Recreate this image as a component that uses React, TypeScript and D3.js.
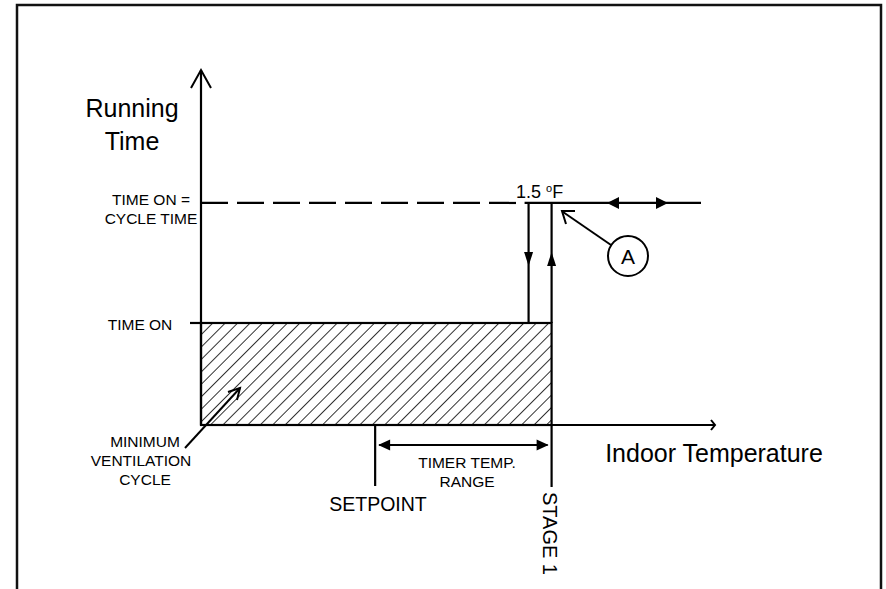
import React, { useEffect, useRef } from "react";
import * as d3 from "d3";

// temperature axis (°F above origin) and running-time axis (% of cycle)
const tempDomain = [0, 33.5];
const timeDomain = [0, 100];
const setpoint = 11.35;
const stage1 = 22.85;
const hysteresis = 1.5;
const timeOn = 28.9;
const cycleTime = 62.9;
const yLevelLabels = [
  { value: cycleTime, lines: ["TIME ON =", "CYCLE TIME"], cx: 151 },
  { value: timeOn, lines: ["TIME ON"], cx: 140 },
];
const minLabel = ["MINIMUM", "VENTILATION", "CYCLE"];
const rangeLabel = ["TIMER TEMP.", "RANGE"];

const W = 886;
const H = 589;
const FONT = "'Liberation Sans', Arial, sans-serif";

const App = () => {
  const svgRef = useRef<SVGSVGElement>(null);

  useEffect(() => {
    const svg = d3.select(svgRef.current);
    svg.selectAll("*").remove();

    const x = d3.scaleLinear().domain(tempDomain).range([201, 715]);
    const y = d3.scaleLinear().domain(timeDomain).range([425, 72]);
    const x0 = x(0);
    const y0 = y(0);

    // hatch pattern
    const defs = svg.append("defs");
    defs
      .append("pattern")
      .attr("id", "hatch")
      .attr("patternUnits", "userSpaceOnUse")
      .attr("width", 8.8)
      .attr("height", 8.8)
      .attr("patternTransform", "rotate(45)")
      .append("line")
      .attr("x1", 0)
      .attr("y1", 0)
      .attr("x2", 0)
      .attr("y2", 8.8)
      .attr("stroke", "#000")
      .attr("stroke-width", 1.6);

    // outer frame (open at the bottom)
    svg
      .append("path")
      .attr("d", `M17,${H} L17,5 L881,5 L881,${H}`)
      .attr("fill", "none")
      .attr("stroke", "#111")
      .attr("stroke-width", 2.5);

    const line = (x1: number, y1: number, x2: number, y2: number, w = 2) =>
      svg
        .append("line")
        .attr("x1", x1)
        .attr("y1", y1)
        .attr("x2", x2)
        .attr("y2", y2)
        .attr("stroke", "#000")
        .attr("stroke-width", w);

    const tri = (tx: number, ty: number, dir: "up" | "down" | "left" | "right", len = 12, half = 4.5) => {
      let d = "";
      if (dir === "up") d = `M${tx},${ty} L${tx - half},${ty + len} L${tx + half},${ty + len}Z`;
      if (dir === "down") d = `M${tx},${ty} L${tx - half},${ty - len} L${tx + half},${ty - len}Z`;
      if (dir === "left") d = `M${tx},${ty} L${tx + len},${ty - half} L${tx + len},${ty + half}Z`;
      if (dir === "right") d = `M${tx},${ty} L${tx - len},${ty - half} L${tx - len},${ty + half}Z`;
      svg.append("path").attr("d", d).attr("fill", "#000");
    };

    const text = (s: string, tx: number, ty: number, size: number, anchor = "middle") =>
      svg
        .append("text")
        .attr("x", tx)
        .attr("y", ty)
        .attr("font-family", FONT)
        .attr("font-size", size)
        .attr("text-anchor", anchor)
        .attr("fill", "#000")
        .text(s);

    // hatched minimum ventilation area
    svg
      .append("rect")
      .attr("x", x0)
      .attr("y", y(timeOn))
      .attr("width", x(stage1) - x0)
      .attr("height", y0 - y(timeOn))
      .attr("fill", "url(#hatch)")
      .attr("stroke", "#000")
      .attr("stroke-width", 2.2);

    // axes
    line(x0, y0, x0, y(100) - 2, 2.2);
    svg
      .append("path")
      .attr("d", `M${x0 - 10},${y(100) + 16} L${x0},${y(100) - 2} L${x0 + 10},${y(100) + 16}`)
      .attr("fill", "none")
      .attr("stroke", "#000")
      .attr("stroke-width", 2);
    line(x0, y0, x(tempDomain[1]), y0, 2.2);
    svg
      .append("path")
      .attr("d", `M${x(tempDomain[1]) - 4},${y0 - 5} L${x(tempDomain[1])},${y0} L${x(tempDomain[1]) - 4},${y0 + 5}`)
      .attr("fill", "none")
      .attr("stroke", "#000")
      .attr("stroke-width", 2);

    // time on tick
    line(x0 - 11, y(timeOn), x0, y(timeOn), 2.2);

    // cycle time dashed line
    const xd = x(stage1 - hysteresis);
    const xu = x(stage1);
    line(x0, y(cycleTime), 516, y(cycleTime), 2.2).attr("stroke-dasharray", "27 9");
    line(xd - 4, y(cycleTime), 701, y(cycleTime), 2.2);
    tri(607, y(cycleTime), "left", 12, 6);
    tri(668, y(cycleTime), "right", 12, 6);

    // hysteresis loop
    line(xd, y(cycleTime), xd, y(timeOn), 2.2);
    tri(xd, 266, "down", 14, 4.5);
    line(xu, y(timeOn), xu, y(cycleTime), 2.2);
    tri(xu, 252, "up", 14, 4.5);

    // 1.5 °F label
    const lbl = svg
      .append("text")
      .attr("x", 516)
      .attr("y", 198)
      .attr("font-family", FONT)
      .attr("font-size", 18)
      .attr("fill", "#000");
    lbl.append("tspan").text(`${hysteresis} `);
    lbl.append("tspan").attr("font-size", 11).attr("dy", -6).text("o");
    lbl.append("tspan").attr("dy", 6).text("F");

    // callout A
    svg
      .append("circle")
      .attr("cx", 628)
      .attr("cy", 256)
      .attr("r", 20)
      .attr("fill", "#fff")
      .attr("stroke", "#000")
      .attr("stroke-width", 2);
    text("A", 628, 264, 21);
    line(611, 245, 563, 212, 2);
    svg
      .append("path")
      .attr("d", "M566,224 L562,211 L575,211")
      .attr("fill", "none")
      .attr("stroke", "#000")
      .attr("stroke-width", 2);

    // setpoint / stage 1 markers
    line(x(setpoint), y0, x(setpoint), 486, 2.2);
    line(xu, y0, xu, 487, 2.2);
    line(x(setpoint) + 4, 445, xu - 4, 445, 2.2);
    tri(x(setpoint) + 3, 445, "left", 12, 5.5);
    tri(xu - 3, 445, "right", 12, 5.5);
    rangeLabel.forEach((s, i) => text(s, 467, 468 + i * 19, 15.5));

    // minimum ventilation leader
    line(185, 448, 240, 388, 2);
    svg
      .append("path")
      .attr("d", "M228,392 L240,388 L237,400")
      .attr("fill", "none")
      .attr("stroke", "#000")
      .attr("stroke-width", 2);

    // axis titles
    text("Running", 132, 117, 25);
    text("Time", 132, 150, 25);
    text("Indoor Temperature", 714, 462, 25);
    text("SETPOINT", 378, 511, 19.5);
    svg
      .append("text")
      .attr("transform", `translate(${543},${492}) rotate(90)`)
      .attr("font-family", FONT)
      .attr("font-size", 20)
      .attr("fill", "#000")
      .text("STAGE 1");

    // y level labels
    yLevelLabels.forEach((d) => {
      d.lines.forEach((s, i) => {
        const ty = d.lines.length > 1 ? y(d.value) + 2 + i * 19 : y(d.value) + 7;
        text(s, d.cx, ty, 15.5);
      });
    });
    minLabel.forEach((s, i) => text(s, [145, 141, 145][i], 447 + i * 19, 15.5));
  }, []);

  return (
    <svg
      ref={svgRef}
      width={W}
      height={H}
      style={{ position: "absolute", left: 0, top: 0, background: "#fff" }}
    ></svg>
  );
};

export default App;
